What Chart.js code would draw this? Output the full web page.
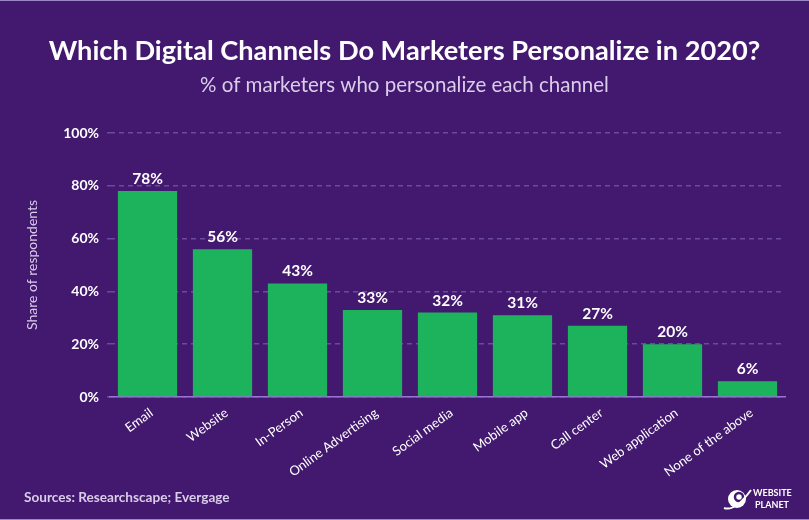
<!DOCTYPE html>
<html>
<head>
<meta charset="utf-8">
<script src="https://cdn.jsdelivr.net/npm/chart.js@4"></script>
<style>
  html, body { margin: 0; padding: 0; background: #43186f; }
  #wrap { width: 809px; height: 520px; position: relative; }
  canvas { display: block; }
</style>
</head>
<body>
<div id="wrap"><canvas id="c" width="809" height="520"></canvas></div>
<script>
const categories = ["Email", "Website", "In-Person", "Online Advertising", "Social media", "Mobile app", "Call center", "Web application", "None of the above"];
const shares = [78, 56, 43, 33, 32, 31, 27, 20, 6];
const yTicks = [0, 20, 40, 60, 80, 100];

const titleText = "Which Digital Channels Do Marketers Personalize in 2020?";
const subtitleText = "% of marketers who personalize each channel";
const sourceText = "Sources: Researchscape; Evergage";

const BG = "#43186f";
const GREEN = "#1db35c";
const FONT = "Lato, 'Open Sans', sans-serif";

const decor = {
  id: "decor",
  beforeDraw(chart) {
    const ctx = chart.ctx;
    ctx.save();
    ctx.fillStyle = BG;
    ctx.fillRect(0, 0, chart.width, chart.height);
    ctx.fillStyle = "#9d86c4";
    ctx.fillRect(0, 0, chart.width, 1);
    ctx.fillRect(0, chart.height - 1, chart.width, 1);
    ctx.restore();
  },
  afterDraw(chart) {
    const ctx = chart.ctx;
    ctx.save();
    ctx.textAlign = "center";
    ctx.textBaseline = "alphabetic";
    ctx.fillStyle = "#ffffff";
    ctx.font = "bold 27.2px " + FONT;
    ctx.fillText(titleText, chart.width / 2, 60);
    ctx.fillStyle = "#d9cde9";
    ctx.font = "20.5px " + FONT;
    ctx.fillText(subtitleText, chart.width / 2, 92);

    // value labels
    const meta = chart.getDatasetMeta(0);
    ctx.fillStyle = "#ffffff";
    ctx.font = "bold 15.5px " + FONT;
    meta.data.forEach((bar, i) => {
      ctx.fillText(shares[i] + "%", bar.x, bar.y - 7);
    });

    // source
    ctx.textAlign = "left";
    ctx.fillStyle = "#d9cde9";
    ctx.font = "bold 13.6px " + FONT;
    ctx.fillText(sourceText, 24, 502);

    // logo
    ctx.fillStyle = "#ffffff";
    ctx.font = "bold 9px " + FONT;
    ctx.fillText("WEBSITE", 753, 496);
    ctx.fillText("PLANET", 755, 508);
    ctx.beginPath();
    ctx.arc(737, 499, 9, 0, Math.PI * 2);
    ctx.fill();
    ctx.strokeStyle = BG;
    ctx.lineWidth = 2.5;
    ctx.beginPath();
    ctx.arc(739, 497, 4, 0, Math.PI * 2);
    ctx.stroke();
    ctx.strokeStyle = "#ffffff";
    ctx.lineWidth = 2;
    ctx.beginPath();
    ctx.moveTo(724, 508);
    ctx.quadraticCurveTo(735, 512, 751, 490);
    ctx.stroke();
    ctx.restore();
  }
};

new Chart(document.getElementById("c"), {
  type: "bar",
  data: {
    labels: categories,
    datasets: [{
      data: shares,
      backgroundColor: GREEN,
      borderWidth: 0,
      categoryPercentage: 1,
      barPercentage: 0.79
    }]
  },
  options: {
    responsive: false,
    animation: false,
    devicePixelRatio: 1,
    layout: { padding: { top: 133, right: 24, bottom: 0, left: 0 } },
    plugins: { legend: { display: false }, tooltip: { enabled: false }, title: { display: false } },
    scales: {
      x: {
        offset: true,
        grid: { display: false },
        border: { color: "#9d72d8", width: 1.5 },
        ticks: {
          color: "#ffffff",
          font: { family: FONT, size: 13 },
          maxRotation: 36,
          minRotation: 36,
          autoSkip: false,
          padding: 0,
          labelOffset: 4
        },
        afterFit(s) { s.height = 123; }
      },
      y: {
        min: 0,
        max: 100,
        afterBuildTicks(s) { s.ticks = yTicks.map(v => ({ value: v })); },
        grid: { color: "#6d4b9c", lineWidth: 1.5, tickLength: 3, drawTicks: true },
        border: { display: false, dash: [5, 4] },
        ticks: {
          color: "#ffffff",
          font: { family: FONT, size: 14, weight: "bold" },
          padding: 8,
          callback: v => v + "%"
        },
        title: {
          display: true,
          text: "Share of respondents",
          color: "#d9cde9",
          font: { family: FONT, size: 14 },
          padding: { top: 24, bottom: 0 }
        },
        afterFit(s) { s.width = 110; }
      }
    }
  },
  plugins: [decor]
});
</script>
</body>
</html>
